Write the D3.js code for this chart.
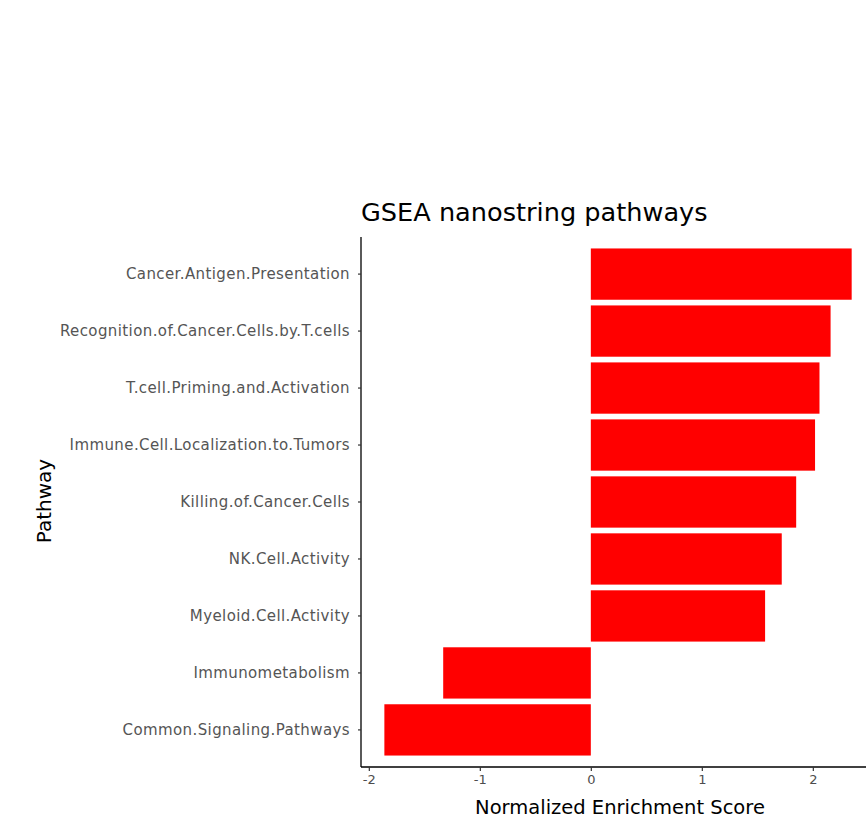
<!DOCTYPE html>
<html>
<head>
<meta charset="utf-8">
<script src="https://cdn.jsdelivr.net/npm/d3@7"></script>
<style>
  body { margin: 0; background: #fff; }
  svg text { font-family: "DejaVu Sans", Verdana, sans-serif; }
</style>
</head>
<body>
<div id="chart"></div>
<script>
// pathways, top to bottom
const pathways = [
    "Cancer.Antigen.Presentation",
    "Recognition.of.Cancer.Cells.by.T.cells",
    "T.cell.Priming.and.Activation",
    "Immune.Cell.Localization.to.Tumors",
    "Killing.of.Cancer.Cells",
    "NK.Cell.Activity",
    "Myeloid.Cell.Activity",
    "Immunometabolism",
    "Common.Signaling.Pathways"
];
// normalized enrichment scores
const nes = [2.35, 2.16, 2.06, 2.02, 1.85, 1.72, 1.57, -1.33, -1.86];
const xTicks = [-2, -1, 0, 1, 2];

const data = pathways.map((p, i) => ({ pathway: p, nes: nes[i] }));

const width = 866, height = 836;
const plotLeft = 361, plotTop = 237, plotBottom = 767;

// ggplot style 5% expansion on the continuous axis
const lo = d3.min(nes), hi = d3.max(nes);
const pad = (hi - lo) * 0.05;
const x = d3.scaleLinear([lo - pad, hi + pad], [plotLeft, plotLeft + (hi - lo + 2 * pad) * 111]);

// discrete axis with 0.6 band expansion each side
const step = (plotBottom - plotTop) / (pathways.length - 1 + 1.2);
const y = d3.scaleBand(pathways, [plotTop + 0.1 * step, plotBottom - 0.1 * step]).padding(0.1);

const svg = d3.select("#chart")
    .append("svg")
    .attr("width", width)
    .attr("height", height);

// bars
svg.selectAll("rect.bar")
    .data(data)
    .enter()
    .append("rect")
    .attr("class", "bar")
    .attr("x", d => x(Math.min(0, d.nes)))
    .attr("width", d => Math.abs(x(d.nes) - x(0)))
    .attr("y", d => y(d.pathway))
    .attr("height", y.bandwidth())
    .style("fill", "#ff0000");

// x axis
let xAxis = d3.axisBottom(x)
    .tickValues(xTicks)
    .tickFormat(d => String(d))
    .tickSize(4).tickPadding(4).tickSizeOuter(0);
let gx = svg.append("g")
    .attr("transform", `translate(0, ${plotBottom})`)
    .call(xAxis);
gx.select(".domain").attr("d", `M${plotLeft},0H${x.range()[1]}`).style("stroke", "#000").style("stroke-width", 1.3);
gx.selectAll(".tick line").style("stroke", "#333").style("stroke-width", 1.2);
gx.selectAll("text").style("font-size", "13px").style("fill", "#4d4d4d");

// y axis
let yAxis = d3.axisLeft(y).tickSize(3).tickPadding(8).tickSizeOuter(0);
let gy = svg.append("g")
    .attr("transform", `translate(${plotLeft}, 0)`)
    .call(yAxis);
gy.select(".domain").attr("d", `M0,${plotTop}V${plotBottom}`).style("stroke", "#000").style("stroke-width", 1.3);
gy.selectAll(".tick line").style("stroke", "#333").style("stroke-width", 1.2);
gy.selectAll("text")
    .style("font-size", "15px")
    .style("letter-spacing", "0.4px")
    .style("fill", "#555");

// titles
svg.append("text")
    .attr("x", plotLeft)
    .attr("y", 221)
    .style("font-size", "25.6px")
    .style("fill", "#000")
    .text("GSEA nanostring pathways");

svg.append("text")
    .attr("x", 620)
    .attr("y", 814)
    .attr("text-anchor", "middle")
    .style("font-size", "19.5px")
    .style("fill", "#000")
    .text("Normalized Enrichment Score");

svg.append("text")
    .attr("transform", "translate(51, 501) rotate(-90)")
    .attr("text-anchor", "middle")
    .style("font-size", "20px")
    .style("fill", "#000")
    .text("Pathway");
</script>
</body>
</html>
